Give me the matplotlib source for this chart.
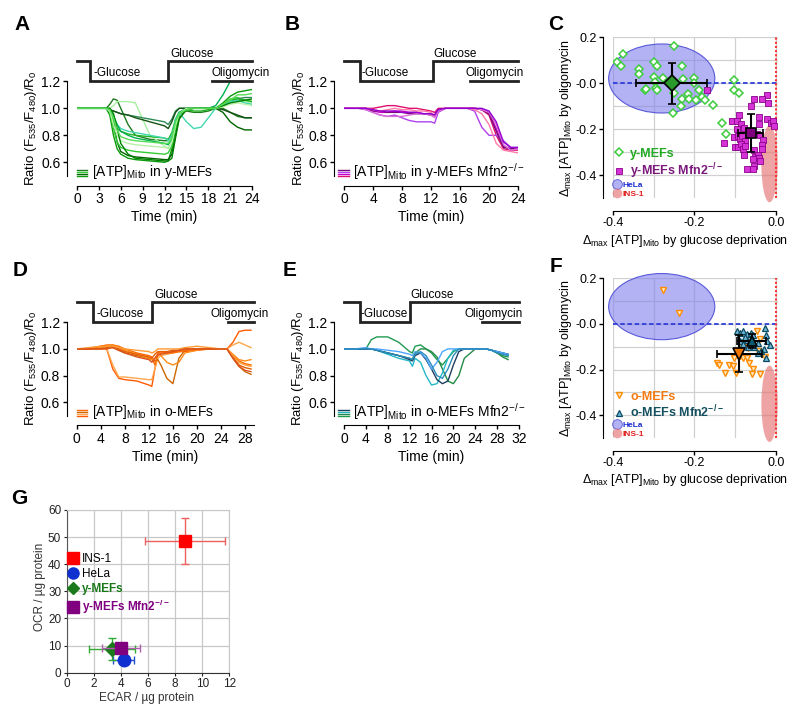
import numpy as np
import matplotlib
matplotlib.use('Agg')
import matplotlib.pyplot as plt
from matplotlib.patches import Ellipse
from matplotlib.lines import Line2D

plt.rcParams['font.family'] = ['Liberation Sans', 'DejaVu Sans']
plt.rcParams['mathtext.fontset'] = 'custom'
plt.rcParams['mathtext.rm'] = 'Liberation Sans'
plt.rcParams['mathtext.bf'] = 'Liberation Sans:bold'
plt.rcParams['mathtext.default'] = 'regular'
plt.rcParams['axes.unicode_minus'] = False

nan = np.nan

# ---------------- panel A : y-MEFs traces ----------------
time_a = [0, 2, 4, 4.5, 5, 5.5, 6, 7, 8, 10, 12, 12.5, 13, 13.5, 14, 15, 16, 17, 18, 19, 20, 21, 22, 23, 24]
traces_a = [
    [1.00, 1.00, 1.00, 0.95, 0.80, 0.70, 0.66, 0.63, 0.62, 0.61, 0.60, 0.61, 0.70, 0.85, 0.95, 1.00, 1.00, 1.00, 1.00, 1.00, 1.04, 1.09, 1.12, 1.13, 1.14],
    [1.00, 1.00, 1.00, 1.00, 0.90, 0.75, 0.68, 0.65, 0.64, 0.63, 0.62, 0.62, 0.66, 0.80, 0.93, 0.99, 1.00, 1.00, 1.00, 1.00, 0.97, 0.90, 0.86, 0.84, 0.84],
    [1.00, 1.00, 1.00, 0.98, 0.85, 0.75, 0.71, 0.69, 0.68, 0.67, 0.66, 0.67, 0.72, 0.85, 0.95, 1.00, 1.00, 1.00, 1.00, 1.00, 1.03, 1.07, 1.08, 1.06, 1.05],
    [1.00, 1.00, 1.00, 1.03, 1.07, 1.06, 1.00, 0.88, 0.80, 0.77, 0.76, 0.76, 0.80, 0.90, 0.96, 0.98, 0.97, 0.97, 0.98, 1.00, 1.00, 0.97, 0.94, 0.93, 0.93],
    [1.00, 1.00, 1.00, 1.00, 1.02, 1.05, 1.05, 1.05, 1.04, 0.80, 0.72, 0.70, 0.75, 0.88, 0.96, 0.99, 1.00, 1.00, 1.00, 1.00, 1.02, 1.05, 1.06, 1.05, 1.04],
    [1.00, 1.00, 1.00, 0.99, 0.98, 0.97, 0.96, 0.95, 0.94, 0.92, 0.90, 0.88, 0.92, 0.98, 1.00, 1.00, 1.00, 1.00, 1.00, 1.00, 1.02, 1.05, 1.07, 1.08, 1.08],
    [1.00, 1.00, 1.00, 0.99, 0.98, 0.97, 0.96, 0.95, 0.93, 0.90, 0.87, 0.85, 0.90, 0.97, 1.00, 1.00, 1.00, 1.00, 1.00, 1.00, 0.99, 0.97, 0.95, 0.93, 0.93],
    [1.00, 1.00, 1.00, 0.98, 0.90, 0.85, 0.83, 0.81, 0.80, 0.79, 0.78, 0.77, 0.82, 0.92, 0.97, 0.99, 0.98, 0.98, 0.99, 1.00, 1.03, 1.06, 1.07, 1.06, 1.05],
    [1.00, 1.00, 1.00, 0.98, 0.93, 0.88, 0.85, 0.83, 0.82, 0.80, 0.78, 0.76, 0.80, 0.92, 0.97, 0.90, 0.85, 0.86, 0.93, 1.00, 1.02, 1.05, 1.06, 1.04, 1.03],
    [1.00, 1.00, 1.00, 0.99, 0.95, 0.88, 0.83, 0.80, 0.78, 0.76, 0.74, 0.73, 0.77, 0.90, 0.97, 1.00, 1.00, 1.00, 1.00, 1.02, 1.10, 1.20, nan, nan, nan],
    [1.00, 1.00, 1.00, 0.98, 0.88, 0.80, 0.76, 0.74, 0.73, 0.72, 0.71, 0.71, 0.75, 0.88, 0.96, 1.00, 1.00, 1.00, 1.00, 1.00, 1.01, 1.03, 1.04, 1.03, 1.02],
    [1.00, 1.00, 1.00, 1.00, 0.96, 0.85, 0.74, 0.66, 0.63, 0.62, 0.61, 0.61, 0.63, 0.78, 0.92, 0.99, 1.00, 1.00, 1.00, 1.00, 1.02, 1.04, 1.05, 1.06, 1.07],
    [1.00, 1.00, 1.00, 0.99, 0.93, 0.84, 0.79, 0.77, 0.76, 0.75, 0.74, 0.74, 0.78, 0.90, 0.96, 0.99, 1.00, 1.00, 1.00, 1.00, 1.03, 1.06, 1.10, 1.10, 1.11],
]
colors_a = ['#0a9a0a', '#006400', '#33cc33', '#1f7a1f', '#a8f0a0', '#2e8b57', '#145214',
            '#22b422', '#40d8b0', '#00b050', '#b8f0a8', '#008000', '#55dd55']

# ---------------- panel B : y-MEFs Mfn2-/- traces ----------------
time_b = [0, 2, 3, 4, 5, 6, 7, 8, 9, 10, 11, 12, 12.5, 13, 14, 15, 16, 17, 18, 19, 20, 21, 22, 23, 24]
traces_b = [
    [1.00, 1.00, 1.00, 1.00, 1.01, 1.02, 1.02, 1.01, 1.00, 1.00, 0.99, 0.98, 0.97, 1.00, 1.00, 1.00, 1.00, 1.00, 1.00, 0.99, 0.95, 0.80, 0.70, 0.69, 0.69],
    [1.00, 1.00, 1.00, 0.98, 0.97, 0.97, 0.98, 0.98, 0.97, 0.97, 0.96, 0.96, 0.95, 0.99, 1.00, 1.00, 1.00, 1.00, 1.00, 0.99, 0.97, 0.85, 0.72, 0.70, 0.70],
    [1.00, 1.00, 0.99, 0.97, 0.95, 0.94, 0.95, 0.93, 0.91, 0.90, 0.90, 0.90, 0.89, 0.97, 1.00, 1.00, 1.00, 1.00, 0.98, 0.86, 0.80, 0.80, 0.76, 0.71, 0.71],
    [1.00, 1.00, 1.00, 0.98, 0.98, 0.97, 0.97, 0.97, 0.96, 0.96, 0.96, 0.95, 0.95, 0.99, 1.00, 1.00, 1.00, 1.00, 1.00, 0.99, 0.96, 0.83, 0.71, 0.70, 0.71],
    [1.00, 1.00, 1.00, 0.99, 0.98, 0.99, 1.00, 0.99, 0.99, 0.98, 0.98, 0.97, 0.94, 0.98, 1.00, 1.00, 1.00, 1.00, 0.99, 0.96, 0.88, 0.74, 0.69, 0.68, 0.67],
    [1.00, 1.00, 0.99, 0.97, 0.95, 0.94, 0.94, 0.94, 0.95, 0.96, 0.96, 0.95, 0.93, 0.98, 1.00, 1.00, 1.00, 1.00, 1.00, 0.99, 0.97, 0.88, 0.73, 0.69, 0.70],
    [1.00, 1.00, 1.00, 0.99, 0.98, 0.98, 0.98, 0.97, 0.97, 0.97, 0.96, 0.96, 0.95, 0.99, 1.00, 1.00, 1.00, 1.00, 1.00, 1.00, 0.98, 0.90, 0.75, 0.71, 0.71],
]
colors_b = ['#e0106e', '#cc00cc', '#b040f0', '#7a0a7a', '#ff7aa8', '#da70d6', '#9400d3']

# ---------------- panel D : o-MEFs traces ----------------
time_d = [0, 2, 4, 5, 6, 7, 8, 10, 12, 12.5, 13, 13.5, 14, 15, 16, 17, 18, 20, 22, 24, 25, 26, 27, 28, 29]
traces_d = [
    [1.00, 1.00, 1.01, 1.00, 0.85, 0.78, 0.77, 0.76, 0.73, 0.72, 0.85, 0.95, 0.97, 0.97, 0.98, 0.98, 0.98, 0.99, 1.00, 1.00, 1.00, 1.05, 1.13, 1.14, 1.14],
    [1.00, 1.00, 1.00, 1.00, 0.88, 0.79, 0.79, 0.78, 0.77, 0.77, 0.85, 0.93, 0.95, 0.96, 0.97, 0.98, 0.99, 1.00, 1.00, 1.00, 1.00, 1.03, 1.05, 1.03, 1.01],
    [1.00, 1.00, 1.02, 1.02, 1.01, 0.99, 0.97, 0.95, 0.93, 0.92, 0.91, 0.92, 0.88, 0.78, 0.74, 0.93, 0.99, 1.00, 1.00, 1.00, 1.00, 0.93, 0.87, 0.83, 0.81],
    [1.00, 1.00, 1.02, 1.03, 1.03, 1.02, 1.00, 0.97, 0.95, 0.94, 0.88, 0.97, 0.98, 0.97, 0.97, 0.98, 0.99, 1.00, 1.00, 1.00, 1.00, 0.95, 0.91, 0.89, 0.88],
    [1.00, 1.00, 1.01, 1.02, 1.03, 1.01, 0.99, 0.96, 0.93, 0.92, 0.93, 0.96, 0.95, 0.90, 0.88, 0.90, 0.97, 0.99, 1.00, 1.00, 1.00, 0.96, 0.92, 0.91, 0.92],
    [1.00, 1.00, 1.00, 1.01, 1.02, 1.00, 0.98, 0.96, 0.94, 0.93, 0.96, 0.98, 0.98, 0.98, 0.99, 0.99, 1.00, 1.00, 1.00, 1.00, 1.00, 0.94, 0.88, 0.86, 0.85],
    [1.00, 1.01, 1.02, 1.02, 1.02, 1.01, 1.00, 0.99, 0.98, 0.97, 0.98, 1.00, 1.00, 1.00, 1.00, 1.00, 1.01, 1.02, 1.01, 1.00, 1.00, 0.95, 0.90, 0.88, 0.87],
    [1.00, 1.00, 1.00, 1.00, 1.01, 0.99, 0.97, 0.94, 0.92, 0.90, 0.93, 0.96, 0.96, 0.97, 0.98, 0.99, 1.00, 1.00, 1.00, 1.00, 1.00, 0.93, 0.87, 0.84, 0.83],
]
colors_d = ['#ff5a00', '#ffa64d', '#cc6600', '#ff6a00', '#ff8c1a', '#e65c00', '#ff9933', '#d9531e']

# ---------------- panel E : o-MEFs Mfn2-/- traces ----------------
time_e = [0, 2, 4, 5, 6, 8, 10, 12, 12.5, 13, 14, 15, 16, 17, 18, 19, 20, 21, 22, 24, 26, 27, 28, 29, 30]
traces_e = [
    [1.00, 1.00, 1.00, 1.07, 1.09, 1.09, 1.05, 0.98, 0.97, 1.02, 1.03, 1.00, 0.97, 0.92, 0.88, 0.93, 0.98, 1.00, 1.00, 1.00, 1.00, 0.99, 0.97, 0.95, 0.94],
    [1.00, 1.00, 1.00, 1.00, 0.99, 0.97, 0.95, 0.93, 0.92, 0.97, 1.00, 1.00, 0.98, 0.94, 0.85, 0.76, 0.74, 0.80, 0.93, 1.00, 1.00, 0.99, 0.97, 0.94, 0.92],
    [1.00, 1.00, 1.00, 1.00, 0.99, 0.96, 0.93, 0.91, 0.87, 0.93, 0.90, 0.80, 0.73, 0.74, 0.82, 0.93, 0.99, 1.00, 1.00, 1.00, 1.00, 0.99, 0.98, 0.97, 0.96],
    [1.00, 1.00, 1.00, 1.00, 0.99, 0.97, 0.95, 0.92, 0.91, 0.95, 0.97, 0.92, 0.85, 0.77, 0.74, 0.76, 0.88, 0.98, 1.00, 1.00, 1.00, 0.99, 0.98, 0.97, 0.96],
    [1.00, 1.00, 1.01, 1.00, 1.00, 0.99, 0.98, 0.96, 0.95, 0.98, 0.97, 0.93, 0.85, 0.90, 0.98, 1.00, 1.00, 1.00, 1.00, 1.00, 1.00, 0.99, 0.98, 0.97, 0.96],
    [1.00, 1.00, 1.00, 1.00, 0.99, 0.97, 0.95, 0.93, 0.92, 0.96, 0.98, 0.95, 0.88, 0.80, 0.78, 0.85, 0.95, 1.00, 1.00, 1.00, 1.00, 0.99, 0.97, 0.96, 0.95],
]
colors_e = ['#1f9a50', '#238b45', '#22b8c8', '#1f3f5f', '#4da6ff', '#2b8cbe']

# protocol bars: step down, step up, oligomycin start, end
protocol_a = [1.8, 12.5, 18.5, 24]
protocol_b = [2.2, 12.3, 17.4, 24]
protocol_d = [2.7, 12.5, 25.1, 29.5]
protocol_e = [2.9, 12.0, 25.2, 32]

# ---------------- panel C : scatter y-MEFs ----------------
c_wt_x = [-0.390, -0.376, -0.380, -0.336, -0.335, -0.322, -0.318, -0.299, -0.291, -0.299, -0.296, -0.294,
          -0.292, -0.278, -0.249, -0.251, -0.253, -0.231, -0.227, -0.231, -0.233, -0.215, -0.212, -0.201,
          -0.202, -0.188, -0.196, -0.182, -0.174, -0.155, -0.102, -0.102, -0.091, -0.133, -0.123]
c_wt_y = [0.093, 0.126, 0.074, 0.061, 0.040, -0.029, -0.025, 0.091, 0.076, 0.026, 0.007, -0.021,
          -0.031, 0.023, 0.164, -0.043, -0.129, 0.077, 0.020, -0.069, -0.100, -0.047, -0.069, 0.021,
          0.003, -0.029, -0.071, -0.060, -0.071, -0.093, 0.014, -0.031, -0.043, -0.171, -0.221]
c_ko_x = [-0.168, -0.053, -0.021, -0.035, -0.019, -0.062, -0.090, -0.107, -0.096, -0.086, -0.078, -0.042,
          -0.041, -0.023, -0.012, -0.008, -0.005, -0.096, -0.103, -0.092, -0.088, -0.084, -0.076, -0.100,
          -0.092, -0.085, -0.080, -0.076, -0.127, -0.046, -0.040, -0.033, -0.035, -0.034, -0.055, -0.051,
          -0.045, -0.041, -0.039, -0.079, -0.057, -0.055, -0.056, -0.072]
c_ko_y = [-0.029, -0.067, -0.050, -0.067, -0.086, -0.097, -0.136, -0.164, -0.164, -0.176, -0.193, -0.147,
          -0.178, -0.154, -0.171, -0.165, -0.186, -0.200, -0.235, -0.228, -0.243, -0.228, -0.250, -0.278,
          -0.278, -0.264, -0.285, -0.271, -0.261, -0.221, -0.225, -0.247, -0.268, -0.285, -0.288, -0.321,
          -0.312, -0.325, -0.336, -0.310, -0.327, -0.360, -0.373, -0.371]
c_wt_mean = [-0.256, 0.0, 0.086, 0.089]   # x, y, xerr, yerr
c_ko_mean = [-0.062, -0.217, 0.031, 0.082]
c_hela = [-0.28, 0.021, 0.26, 0.30]       # centre x, centre y, width, height
c_ins = [-0.016, -0.35, 0.04, 0.335]

# ---------------- panel F : scatter o-MEFs ----------------
f_wt_x = [-0.276, -0.237, -0.144, -0.139, -0.126, -0.115, -0.105, -0.098, -0.103, -0.088, -0.082, -0.072,
          -0.066, -0.056, -0.059, -0.039, -0.069, -0.080, -0.046, -0.040, -0.044, -0.027]
f_wt_y = [0.149, 0.050, -0.171, -0.180, -0.217, -0.180, -0.186, -0.217, -0.151, -0.140, -0.151, -0.150,
          -0.171, -0.197, -0.218, -0.221, -0.104, -0.100, -0.033, -0.066, -0.120, -0.147]
f_ko_x = [-0.096, -0.088, -0.082, -0.071, -0.061, -0.056, -0.088, -0.080, -0.071, -0.059, -0.054, -0.045,
          -0.027, -0.024, -0.021, -0.029, -0.038, -0.045, -0.025, -0.016, -0.068, -0.076]
f_ko_y = [-0.033, -0.038, -0.033, -0.043, -0.038, -0.047, -0.076, -0.090, -0.069, -0.090, -0.100, -0.083,
          -0.019, -0.047, -0.076, -0.109, -0.119, -0.126, -0.150, -0.094, -0.100, -0.057]
f_wt_mean = [-0.090, -0.130, 0.055, 0.080]
f_ko_mean = [-0.060, -0.075, 0.035, 0.030]
f_hela = [-0.28, 0.076, 0.26, 0.29]
f_ins = [-0.016, -0.35, 0.04, 0.335]

# ---------------- panel G : OCR vs ECAR ----------------
g_names = ['INS-1', 'HeLa', 'y-MEFs', 'y-MEFs Mfn2$^{-/-}$']
g_ecar = [8.7, 4.2, 3.35, 4.0]
g_ecar_err = [2.95, 0.8, 1.7, 1.4]
g_ocr = [48.5, 4.8, 8.7, 9.0]
g_ocr_err = [8.5, 1.0, 4.2, 1.5]

fig = plt.figure(figsize=(8, 7.19), dpi=100)
ratio_label = r'Ratio (F$_{535}$/F$_{480}$)/R$_0$'


def trace_panel(rect, t, traces, colors, xmax, xticks, prot, txt_x, legend_text, icon_x):
    ax = fig.add_axes(rect)
    for y, c in zip(traces, colors):
        ax.plot(t, y, color=c, lw=1.0)
    ax.set_xlim(0, xmax)
    ax.set_ylim(0.5, 1.45)
    ax.spines[['top', 'right']].set_visible(False)
    ax.spines['left'].set_position(('outward', 7))
    ax.spines['bottom'].set_position(('outward', 7))
    ax.spines['left'].set_bounds(0.5, 1.2)
    ax.spines['bottom'].set_bounds(0, xmax)
    ax.set_yticks([0.6, 0.8, 1.0, 1.2])
    ax.set_yticklabels(['0.6', '0.8', '1.0', '1.2'])
    ax.set_xticks(xticks)
    ax.tick_params(labelsize=10, length=3, width=1, pad=2)
    ax.set_xlabel('Time (min)', fontsize=10)
    ax.xaxis.set_label_coords(0.5, -0.27)
    ax.set_ylabel(ratio_label, fontsize=9.5)
    ax.yaxis.set_label_coords(-0.215, 0.37)
    # protocol
    down, up, oli, end = prot
    ax.plot([0, down, down, up, up, end], [1.35, 1.35, 1.205, 1.205, 1.35, 1.35],
            color='#222222', lw=2, clip_on=False, solid_joinstyle='miter')
    ax.plot([oli, end], [1.205, 1.205], color='#222222', lw=2, clip_on=False)
    ax.text(txt_x[0], 1.265, '-Glucose', fontsize=8.5, va='center')
    ax.text(txt_x[1], 1.405, 'Glucose', fontsize=8.5, va='center')
    ax.text(txt_x[2], 1.265, 'Oligomycin', fontsize=8.5, va='center')
    # legend
    for k, c in enumerate(colors[:4]):
        ax.plot([icon_x, icon_x + 0.06], [0.0 + k * 0.016] * 2, transform=ax.transAxes,
                color=c, lw=1, clip_on=False)
    ax.text(icon_x + 0.085, -0.005, legend_text, transform=ax.transAxes, fontsize=10, va='baseline')
    return ax


trace_panel([0.0962, 0.7555, 0.219, 0.1783], time_a, traces_a, colors_a, 24, range(0, 25, 3),
            protocol_a, [2.2, 12.8, 18.4], '[ATP]$_{Mito}$ in y-MEFs', 0.0)
trace_panel([0.43, 0.7555, 0.2175, 0.1783], time_b, traces_b, colors_b, 24, range(0, 25, 4),
            protocol_b, [2.4, 12.3, 16.7], '[ATP]$_{Mito}$ in y-MEFs Mfn2$^{-/-}$', -0.034)
trace_panel([0.0959, 0.4218, 0.2216, 0.1765], time_d, traces_d, colors_d, 29.5, range(0, 29, 4),
            protocol_d, [3.3, 13.0, 22.3], '[ATP]$_{Mito}$ in o-MEFs', 0.0)
trace_panel([0.43, 0.4218, 0.21875, 0.1765], time_e, traces_e, colors_e, 32, range(0, 33, 4),
            protocol_e, [3.1, 12.1, 22.1], '[ATP]$_{Mito}$ in o-MEFs Mfn2$^{-/-}$', -0.034)

wt_c = dict(marker='D', ms=4, mfc='white', mec='#3ccc3c', mew=1.1)
ko_c = dict(marker='s', ms=4.5, mfc='#d633d6', mec='#8b008b', mew=0.6)
wt_f = dict(marker='v', ms=5, mfc='#ffe6c0', mec='#ff8c00', mew=1.0)
ko_f = dict(marker='^', ms=5, mfc='#70b8d8', mec='#0b4a60', mew=0.9)

for rect, hela, ins, wx, wy, kx, ky, wm, km, ws, ks, mfc_w, mfc_k, labs, lcols in [
        ([0.7659, 0.7242, 0.2067, 0.2239], c_hela, c_ins, c_wt_x, c_wt_y, c_ko_x, c_ko_y,
         c_wt_mean, c_ko_mean, wt_c, ko_c, '#2a9a2a', '#800080',
         ['y-MEFs', 'y-MEFs Mfn2$^{ -/-}$'], ['#22aa22', '#7b1a7b']),
        ([0.7659, 0.3908, 0.2067, 0.2221], f_hela, f_ins, f_wt_x, f_wt_y, f_ko_x, f_ko_y,
         f_wt_mean, f_ko_mean, wt_f, ko_f, '#f07800', '#0b5a70',
         ['o-MEFs', 'o-MEFs Mfn2$^{ -/-}$'], ['#f57a10', '#14505f'])]:
    ax = fig.add_axes(rect)
    ax.set_xlim(-0.4, 0.005)
    ax.set_ylim(-0.5, 0.2)
    ax.set_axisbelow(True)
    ax.add_patch(Ellipse((hela[0], hela[1]), hela[2], hela[3], facecolor=(0.5, 0.5, 0.93, 0.6),
                         edgecolor=(0.35, 0.35, 0.85), lw=0.8, zorder=1, clip_on=False))
    ax.add_patch(Ellipse((ins[0], ins[1]), ins[2], ins[3], facecolor=(0.9, 0.45, 0.45, 0.65),
                         edgecolor='none', zorder=1, clip_on=False))
    ax.axhline(0, color='#2f3fd8', lw=1.3, ls=(0, (2.5, 1.5)), zorder=2)
    ax.axvline(0, color='#ff3030', lw=1.5, ls=(0, (1, 1)), zorder=2, clip_on=False)
    ax.plot(wx, wy, ls='none', zorder=3, **ws)
    ax.plot(kx, ky, ls='none', zorder=3, **ks)
    ax.errorbar(wm[0], wm[1], xerr=wm[2], yerr=wm[3], fmt=ws['marker'], ms=8, mfc=mfc_w, mec='k',
                mew=1.2, ecolor='k', elinewidth=1.5, capsize=3, capthick=1.5, zorder=5)
    ax.errorbar(km[0], km[1], xerr=km[2], yerr=km[3], fmt=ks['marker'], ms=7, mfc=mfc_k, mec='k',
                mew=1.2, ecolor='k', elinewidth=1.5, capsize=3, capthick=1.5, zorder=5)
    ax.spines[['top', 'right']].set_visible(False)
    ax.spines['left'].set_position(('outward', 7))
    ax.spines['bottom'].set_position(('outward', 9))
    ax.spines['left'].set_bounds(-0.5, 0.2)
    ax.spines['bottom'].set_bounds(-0.4, 0.0)
    ax.set_xticks([-0.4, -0.2, 0.0])
    ax.set_xticklabels(['-0.4', '-0.2', '0.0'])
    ax.set_yticks([0.2, 0.0, -0.2, -0.4])
    ax.set_yticklabels(['0.2', '-0.0', '-0.2', '-0.4'])
    ax.set_xticks([-0.3, -0.1], minor=True)
    ax.set_yticks([0.1, -0.1, -0.3], minor=True)
    ax.tick_params(which='minor', length=0)
    ax.tick_params(labelsize=9, length=3, width=1, pad=1.5)
    ax.grid(True, which='both', color='#d0d0d0', lw=0.9)
    ax.set_xlabel('Δ$_{max}$ [ATP]$_{Mito}$ by glucose deprivation', fontsize=9)
    ax.xaxis.set_label_coords(0.44, -0.215)
    ax.set_ylabel('Δ$_{max}$ [ATP]$_{Mito}$ by oligomycin', fontsize=9)
    ax.yaxis.set_label_coords(-0.235, 0.5)
    # legends
    h1 = Line2D([], [], ls='none', **ws)
    h2 = Line2D([], [], ls='none', **ks)
    leg1 = ax.legend([h1, h2], labs, loc='lower left', bbox_to_anchor=(0.0, 0.11), frameon=False,
                     prop={'weight': 'bold', 'size': 9}, handletextpad=0.4, borderaxespad=0,
                     handlelength=1, labelspacing=0.1, borderpad=0)
    for txt, col in zip(leg1.get_texts(), lcols):
        txt.set_color(col)
    ax.add_artist(leg1)
    h3 = Line2D([], [], ls='none', marker='o', ms=7, mfc=(0.5, 0.5, 0.93, 0.6), mec=(0.35, 0.35, 0.85), mew=0.6)
    h4 = Line2D([], [], ls='none', marker='o', ms=7, mfc=(0.9, 0.45, 0.45, 0.65), mec='none')
    leg2 = ax.legend([h3, h4], ['HeLa', 'INS-1'], loc='lower left', bbox_to_anchor=(0.0, 0.0),
                     frameon=False, prop={'weight': 'bold', 'size': 6}, handletextpad=0.2,
                     borderaxespad=0, handlelength=1, labelspacing=0.2, borderpad=0)
    for txt, col in zip(leg2.get_texts(), ['#2030d0', '#e02020']):
        txt.set_color(col)

# ---------------- panel G ----------------
axg = fig.add_axes([0.0834, 0.0644, 0.2033, 0.2263])
g_markers = ['s', 'o', 'D', 's']
g_colors = ['#ff0000', '#1030d0', '#1a7a1a', '#800080']
g_ecolors = ['#ee6060', '#2050d0', '#33aa33', '#b060b0']
g_ms = [9, 9, 7, 9]
for i in range(4):
    axg.errorbar(g_ecar[i], g_ocr[i], xerr=g_ecar_err[i], yerr=g_ocr_err[i], fmt=g_markers[i],
                 ms=g_ms[i], mfc=g_colors[i], mec=g_colors[i], ecolor=g_ecolors[i],
                 elinewidth=1, capsize=3, capthick=1, zorder=3 + i)
axg.set_xlim(0, 12)
axg.set_ylim(0, 60)
axg.set_xticks(range(0, 13, 2))
axg.set_yticks(range(0, 61, 10))
axg.grid(True, color='#c8c8c8', lw=0.9)
axg.set_axisbelow(True)
for s in ['top', 'right']:
    axg.spines[s].set_color('#c8c8c8')
axg.spines['left'].set_color('#555555')
axg.spines['bottom'].set_color('#333333')
axg.tick_params(labelsize=8.5, length=2.5, pad=1.5, colors='#222222')
axg.set_xlabel('ECAR / µg protein', fontsize=8.5, color='#333333')
axg.set_ylabel('OCR / µg protein', fontsize=8.5, color='#333333')
axg.xaxis.set_label_coords(0.49, -0.12)
axg.yaxis.set_label_coords(-0.125, 0.53)
g_handles = [Line2D([], [], ls='none', marker=g_markers[i], ms=g_ms[i] - 1, mfc=g_colors[i], mec=g_colors[i])
             for i in range(4)]
legg = axg.legend(g_handles, g_names, loc='upper left', bbox_to_anchor=(0.0, 0.735), frameon=False,
                  fontsize=8.5, handletextpad=0.3, borderaxespad=0, handlelength=1, labelspacing=0.25,
                  borderpad=0)
for k, txt in enumerate(legg.get_texts()):
    if k >= 2:
        txt.set_fontweight('bold')
        txt.set_color(g_colors[k])

# panel letters
for letter, x, y in [('A', 22, 25), ('B', 292, 25), ('C', 556, 25), ('D', 20, 270),
                     ('E', 290, 270), ('F', 556, 266), ('G', 19, 498)]:
    fig.text(x / 800, 1 - y / 719, letter, fontsize=15, fontweight='bold', ha='center', va='center')

fig.savefig('out.png', dpi=100)
